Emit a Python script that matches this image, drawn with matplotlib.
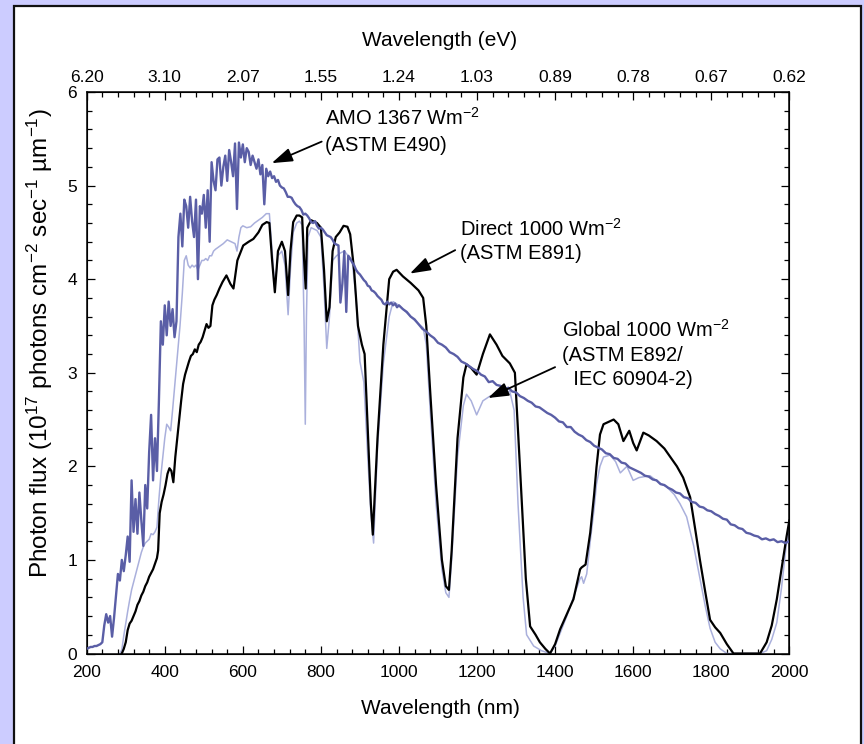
import matplotlib
matplotlib.use("Agg")
import matplotlib.pyplot as plt
from matplotlib.patches import Rectangle
from matplotlib.ticker import MultipleLocator

plt.rcParams["font.family"] = ["Liberation Sans", "DejaVu Sans"]
plt.rcParams["mathtext.fontset"] = "custom"
plt.rcParams["mathtext.rm"] = "Liberation Sans"
plt.rcParams["mathtext.it"] = "Liberation Sans:italic"
plt.rcParams["mathtext.bf"] = "Liberation Sans:bold"

# ---- AM0 extraterrestrial spectrum (ASTM E490) ----
am0_nm = [
    200, 205, 210, 215, 220, 225, 230, 235, 240, 245,
    250, 255, 260, 265, 270, 275, 280, 285, 290, 295,
    300, 305, 310, 315, 320, 325, 330, 335, 340, 345,
    350, 355, 360, 365, 370, 375, 380, 385, 390, 395,
    400, 405, 410, 415, 420, 425, 430, 435, 440, 445,
    450, 455, 460, 465, 470, 475, 480, 485, 490, 495,
    500, 505, 510, 515, 520, 525, 530, 535, 540, 545,
    550, 555, 560, 565, 570, 575, 580, 585, 590, 595,
    600, 605, 610, 615, 620, 625, 630, 635, 640, 645,
    650, 655, 660, 665, 670, 675, 680, 685, 690, 695,
    700, 705, 710, 715, 720, 725, 730, 735, 740, 745,
    750, 755, 760, 765, 770, 775, 780, 785, 790, 795,
    800, 805, 810, 815, 820, 825, 830, 835, 840, 845,
    850, 855, 860, 865, 870, 875, 880, 885, 890, 895,
    900, 905, 910, 915, 920, 925, 930, 935, 940, 945,
    950, 955, 960, 965, 970, 975, 980, 985, 990, 995,
    1000, 1010, 1020, 1030, 1040, 1050, 1060, 1070, 1080, 1090,
    1100, 1110, 1120, 1130, 1140, 1150, 1160, 1170, 1180, 1190,
    1200, 1210, 1220, 1230, 1240, 1250, 1260, 1270, 1280, 1290,
    1300, 1310, 1320, 1330, 1340, 1350, 1360, 1370, 1380, 1390,
    1400, 1410, 1420, 1430, 1440, 1450, 1460, 1470, 1480, 1490,
    1500, 1510, 1520, 1530, 1540, 1550, 1560, 1570, 1580, 1590,
    1600, 1610, 1620, 1630, 1640, 1650, 1660, 1670, 1680, 1690,
    1700, 1710, 1720, 1730, 1740, 1750, 1760, 1770, 1780, 1790,
    1800, 1810, 1820, 1830, 1840, 1850, 1860, 1870, 1880, 1890,
    1900, 1910, 1920, 1930, 1940, 1950, 1960, 1970, 1980, 1990,
    2000,
]
am0_flux = [
    0.05, 0.06, 0.07, 0.07, 0.08, 0.08, 0.09, 0.10, 0.12, 0.30,
    0.42, 0.33, 0.40, 0.18, 0.38, 0.62, 0.85, 0.78, 1.00, 0.88,
    1.05, 1.25, 0.98, 1.85, 1.30, 1.65, 1.28, 1.72, 1.42, 1.15,
    1.80, 1.55, 2.15, 2.55, 1.85, 2.30, 1.95, 2.70, 3.55, 3.30,
    3.72, 3.40, 3.76, 3.50, 3.68, 3.38, 3.55, 4.45, 4.70, 4.35,
    4.85, 4.78, 4.55, 4.88, 4.62, 4.45, 4.85, 4.00, 4.78, 4.70,
    4.90, 4.55, 4.95, 4.40, 5.25, 5.05, 4.95, 5.28, 5.30, 5.00,
    5.20, 5.32, 5.05, 5.38, 5.25, 5.10, 5.45, 4.75, 5.46, 5.30,
    5.44, 5.25, 5.40, 5.36, 5.22, 5.32, 5.25, 5.18, 5.28, 5.12,
    5.22, 4.80, 5.18, 5.10, 5.15, 5.08, 5.10, 5.04, 5.06, 5.00,
    4.98, 4.97, 4.93, 4.88, 4.88, 4.87, 4.83, 4.80, 4.78, 4.77,
    4.74, 4.69, 4.70, 4.68, 4.65, 4.61, 4.60, 4.62, 4.57, 4.54,
    4.55, 4.53, 4.50, 4.47, 4.46, 4.45, 4.42, 4.38, 4.37, 4.36,
    3.75, 3.95, 4.30, 3.65, 4.25, 4.22, 4.18, 4.15, 4.10, 4.07,
    4.05, 4.02, 3.99, 3.97, 3.93, 3.92, 3.88, 3.87, 3.85, 3.82,
    3.80, 3.78, 3.74, 3.73, 3.76, 3.73, 3.75, 3.72, 3.74, 3.70,
    3.72, 3.68, 3.65, 3.60, 3.57, 3.52, 3.47, 3.44, 3.40, 3.37,
    3.32, 3.30, 3.27, 3.22, 3.20, 3.17, 3.12, 3.10, 3.07, 3.04,
    3.02, 2.98, 2.96, 2.90, 2.91, 2.87, 2.86, 2.82, 2.84, 2.80,
    2.79, 2.75, 2.73, 2.70, 2.68, 2.64, 2.63, 2.60, 2.57, 2.55,
    2.52, 2.48, 2.47, 2.42, 2.42, 2.37, 2.34, 2.32, 2.28, 2.26,
    2.22, 2.20, 2.18, 2.14, 2.13, 2.09, 2.08, 2.04, 2.03, 1.99,
    1.97, 1.95, 1.93, 1.90, 1.89, 1.86, 1.85, 1.81, 1.80, 1.77,
    1.75, 1.72, 1.71, 1.67, 1.66, 1.62, 1.61, 1.57, 1.56, 1.53,
    1.52, 1.49, 1.47, 1.44, 1.43, 1.38, 1.37, 1.34, 1.33, 1.29,
    1.28, 1.26, 1.25, 1.22, 1.23, 1.21, 1.22, 1.19, 1.20, 1.18,
    1.20,
]

# ---- Direct normal spectrum (ASTM E891) ----
direct_nm = [
    290, 295, 300, 305, 310, 315, 320, 325, 330, 335, 340, 345, 350, 355,
    360, 365, 370, 375, 380, 383, 387, 392, 397, 402, 407, 412, 417, 422,
    427, 432, 437, 442, 447, 452, 457, 462, 467, 472, 477, 482, 487, 492,
    497, 502, 507, 512, 517, 522, 527, 533, 540, 548, 558, 568, 576, 586,
    601, 615, 627, 640, 650, 661, 668, 675, 682, 690, 700, 708, 716, 722,
    729, 738, 745, 752, 757, 761, 765, 775, 790, 800, 808, 815, 822, 830,
    838, 848, 858, 868, 875, 885, 895, 905, 912, 920, 928, 933, 945, 960,
    975, 985, 994, 1010, 1030, 1050, 1062, 1070, 1080, 1095, 1110, 1120,
    1128, 1135, 1150, 1165, 1173, 1185, 1199, 1215, 1233, 1250, 1265, 1284,
    1297, 1310, 1325, 1336, 1350, 1361, 1375, 1387, 1400, 1413, 1430, 1447,
    1464, 1468, 1478, 1490, 1500, 1506, 1515, 1524, 1540, 1550, 1562, 1575,
    1590, 1600, 1609, 1626, 1640, 1660, 1680, 1695, 1712, 1728, 1746, 1760,
    1771, 1785, 1797, 1810, 1823, 1840, 1857, 1880, 1900, 1925, 1942, 1955,
    1968, 1980, 1993, 2000,
]
direct_flux = [
    0.00, 0.05, 0.12, 0.25, 0.32, 0.35, 0.40, 0.45, 0.52, 0.56, 0.62, 0.66, 0.72, 0.76,
    0.82, 0.86, 0.90, 0.96, 1.02, 1.10, 1.50, 1.62, 1.70, 1.80, 1.92, 1.98, 1.95, 1.83,
    2.10, 2.30, 2.50, 2.70, 2.88, 2.98, 3.05, 3.12, 3.18, 3.20, 3.25, 3.22, 3.30, 3.33,
    3.38, 3.45, 3.52, 3.48, 3.50, 3.72, 3.78, 3.83, 3.90, 3.97, 4.04, 3.95, 3.90, 4.20,
    4.36, 4.40, 4.43, 4.50, 4.58, 4.61, 4.60, 4.20, 3.86, 4.30, 4.40, 4.30, 3.83, 4.30,
    4.61, 4.68, 4.68, 4.66, 4.20, 3.90, 4.55, 4.63, 4.60, 4.55, 4.10, 3.55, 3.70, 4.30,
    4.45, 4.50, 4.57, 4.56, 4.48, 4.10, 3.50, 3.30, 3.20, 2.40, 1.60, 1.27, 2.30, 3.30,
    4.00, 4.08, 4.10, 4.03, 3.96, 3.88, 3.80, 3.50, 2.80, 1.80, 1.00, 0.72,
    0.68, 1.10, 2.30, 2.95, 3.09, 3.05, 2.98, 3.20, 3.41, 3.30, 3.18, 3.10,
    3.00, 1.99, 0.80, 0.29, 0.20, 0.12, 0.05, 0.00, 0.10, 0.26, 0.42, 0.58,
    0.90, 0.92, 0.95, 1.29, 1.70, 1.99, 2.34, 2.45, 2.48, 2.50, 2.45, 2.27,
    2.38, 2.25, 2.17, 2.36, 2.33, 2.27, 2.19, 2.10, 2.00, 1.88, 1.67, 1.30,
    1.00, 0.65, 0.36, 0.28, 0.22, 0.10, 0.00, 0.00, 0.00, 0.00, 0.12, 0.30,
    0.58, 0.90, 1.25, 1.42,
]

# ---- Global tilt spectrum (ASTM E892 / IEC 60904-2) ----
global_nm = [
    285, 290, 295, 300, 305, 310, 315, 320, 325, 330, 335, 340, 345, 350,
    355, 360, 365, 370, 375, 380, 385, 390, 395, 400, 405, 410, 415, 420,
    426, 432, 439, 445, 450, 455, 460, 465, 470, 475, 480, 485, 490, 495,
    500, 505, 510, 515, 520, 525, 530, 540, 550, 560, 570, 580, 585, 590,
    595, 600, 610, 620, 630, 640, 650, 660, 668, 675, 682, 690, 700, 708,
    716, 722, 729, 738, 745, 752, 757, 760, 763, 767, 775, 790, 800, 808,
    815, 822, 830, 840, 850, 860, 870, 880, 890, 900, 910, 920, 928, 935,
    945, 960, 975, 985, 1000, 1020, 1040, 1062, 1070, 1080, 1095, 1110, 1120,
    1128, 1135, 1150, 1165, 1173, 1185, 1199, 1215, 1233, 1250, 1265, 1284,
    1295, 1305, 1318, 1327, 1345, 1365, 1387, 1400, 1413, 1430, 1447, 1464,
    1468, 1473, 1481, 1490, 1500, 1506, 1515, 1524, 1541, 1555, 1567, 1584,
    1600, 1615, 1643, 1665, 1686, 1705, 1720, 1737, 1755, 1771, 1785, 1797,
    1810, 1823, 1840, 1925, 1942, 1955, 1968, 1980, 1993, 2000,
]
global_flux = [
    0.00, 0.04, 0.19, 0.32, 0.45, 0.57, 0.68, 0.76, 0.84, 0.92, 1.00, 1.08, 1.14, 1.18,
    1.20, 1.22, 1.28, 1.27, 1.30, 1.35, 1.65, 1.90, 2.10, 2.30, 2.45, 2.42, 2.38, 2.60,
    2.88, 3.15, 3.50, 3.85, 4.20, 4.25, 4.15, 4.12, 4.15, 4.13, 4.15, 4.10, 4.15, 4.20,
    4.20, 4.22, 4.20, 4.25, 4.25, 4.30, 4.32, 4.35, 4.38, 4.42, 4.40, 4.38, 4.30, 4.45,
    4.55, 4.57, 4.55, 4.56, 4.60, 4.63, 4.66, 4.70, 4.70, 4.30, 3.90, 4.25, 4.30, 4.15,
    3.62, 4.10, 4.50, 4.60, 4.62, 4.58, 3.50, 2.45, 3.60, 4.45, 4.55, 4.52, 4.45, 3.90,
    3.26, 3.60, 4.20, 4.25, 4.28, 4.30, 4.25, 4.20, 3.80, 3.12, 2.90, 2.10, 1.50, 1.18,
    2.20, 3.10, 3.60, 3.76, 3.72, 3.64, 3.56, 3.48, 3.30, 2.60, 1.60, 0.90, 0.65,
    0.60, 1.00, 2.10, 2.65, 2.77, 2.70, 2.55, 2.70, 2.75, 2.76, 2.80, 2.80,
    2.60, 1.60, 0.60, 0.20, 0.08, 0.03, 0.00, 0.08, 0.22, 0.40, 0.60, 0.80,
    0.82, 0.75, 0.85, 1.20, 1.55, 1.81, 2.00, 2.10, 2.12, 2.05, 1.93, 2.00,
    1.85, 1.88, 1.90, 1.83, 1.78, 1.70, 1.60, 1.46, 1.15, 0.80, 0.50, 0.27,
    0.12, 0.05, 0.00, 0.00, 0.03, 0.15, 0.33, 0.70, 1.19, 1.30,
]

# tick labels
nm_ticks = [200, 400, 600, 800, 1000, 1200, 1400, 1600, 1800, 2000]
ev_labels = ["6.20", "3.10", "2.07", "1.55", "1.24", "1.03", "0.89", "0.78", "0.67", "0.62"]
flux_ticks = [0, 1, 2, 3, 4, 5, 6]

W, H = 864, 744
fig = plt.figure(figsize=(W / 100, H / 100), dpi=100)
fig.patch.set_facecolor("#ccccff")
fig.patches.append(Rectangle((14 / W, -0.05), 847 / W, 1.05 - 6 / H,
                             transform=fig.transFigure, facecolor="white",
                             edgecolor="#111111", linewidth=1.6, zorder=-5))

ax = fig.add_axes([86.7 / W, 1 - 653.5 / H, (789.3 - 86.7) / W, (653.5 - 92) / H])
ax.set_zorder(2)
ax.patch.set_alpha(0)

ax.plot(global_nm, global_flux, color="#aab0dc", lw=1.1, zorder=2)
ax.plot(direct_nm, direct_flux, color="black", lw=1.6, zorder=3)
ax.plot(am0_nm, am0_flux, color="#5a5ea6", lw=1.7, zorder=4)

ax.set_xlim(200, 2000)
ax.set_ylim(0, 6)
ax.set_xticks(nm_ticks)
ax.set_yticks(flux_ticks)
ax.xaxis.set_minor_locator(MultipleLocator(40))
ax.yaxis.set_minor_locator(MultipleLocator(0.2))
ax.tick_params(which="both", direction="in", top=False, right=True, width=0.9,
               labelsize=12.5)
ax.tick_params(which="major", length=6)
ax.tick_params(which="minor", length=3.5)
ax.tick_params(axis="x", pad=8.5)
ax.tick_params(axis="y", pad=7)
for s in ax.spines.values():
    s.set_linewidth(1.1)

top = ax.twiny()
top.set_zorder(1)
top.set_xlim(ax.get_xlim())
top.set_xticks(nm_ticks)
top.set_xticklabels(ev_labels)
top.xaxis.set_minor_locator(MultipleLocator(40))
top.tick_params(which="both", direction="in", width=0.9, labelsize=12.5, pad=5)
top.tick_params(which="major", length=6)
top.tick_params(which="minor", length=3.5)

fig.text(440 / W, 1 - 40 / H, "Wavelength (eV)", ha="center", va="center", fontsize=15)
fig.text(440 / W, 1 - 709 / H, "Wavelength (nm)", ha="center", va="center", fontsize=15)
fig.text(40 / W, 1 - 343 / H,
         "Photon flux (10$^{17}$ photons cm$^{-2}$ sec$^{-1}$ µm$^{-1}$)",
         ha="center", va="center", rotation=90, fontsize=17.5)

arrow = dict(arrowstyle="-|>,head_length=0.9,head_width=0.3", color="black",
             lw=1.3, shrinkA=0, shrinkB=0, mutation_scale=14)
ax.annotate("", xy=(674, 5.24), xytext=(802, 5.47), arrowprops=arrow, zorder=6)
ax.annotate("", xy=(1028, 4.06), xytext=(1144, 4.31), arrowprops=arrow, zorder=6)
ax.annotate("", xy=(1228, 2.73), xytext=(1400, 3.06), arrowprops=arrow, zorder=6)

ax.text(810, 5.84, "AMO 1367 Wm$^{-2}$\n(ASTM E490)", ha="left", va="top",
        fontsize=14.5, linespacing=1.45, zorder=6)
ax.text(1156, 4.66, "Direct 1000 Wm$^{-2}$\n(ASTM E891)", ha="left", va="top",
        fontsize=14.5, linespacing=1.3, zorder=6)
ax.text(1417, 3.58, "Global 1000 Wm$^{-2}$\n(ASTM E892/\n  IEC 60904-2)", ha="left",
        va="top", fontsize=14.5, linespacing=1.35, zorder=6)

fig.savefig("out.png", dpi=100, facecolor=fig.get_facecolor())
